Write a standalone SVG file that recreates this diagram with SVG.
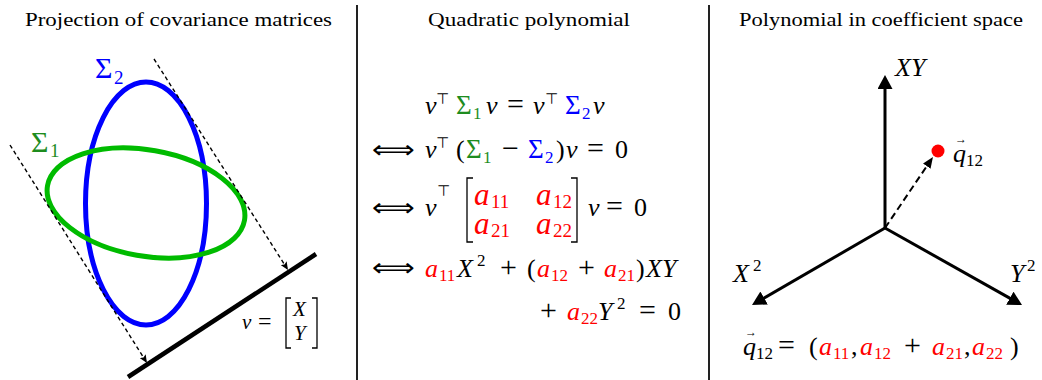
<svg xmlns="http://www.w3.org/2000/svg" width="1042" height="380" viewBox="0 0 1042 380">
<defs>
<style>
text{font-family:"Liberation Serif",serif;fill:#000}
.t{font-size:19px}
.m{font-size:26px}
.i{font-style:italic}
.n{font-style:normal}
.dj{font-family:"DejaVu Sans",sans-serif}
.sup{font-size:15px}
.s{font-size:17px}
.ms{font-size:19px}
.big{font-size:31px;font-style:italic}
.op{font-size:30px}
.sg{font-size:27px}
.iff{font-size:25px}
.vec{font-size:12px}
.lbl{font-size:30px}
.r{fill:#ff0000}
.g{fill:#1e8c1e}
.b{fill:#0000ff}
.div{stroke:#222;stroke-width:2}
.dash{stroke:#000;stroke-width:1.4;stroke-dasharray:4 3;fill:none}
.axis{stroke:#000;stroke-width:3;fill:none}
.brk{stroke:#000;stroke-width:1.3;fill:none}
</style>
<marker id="ah" viewBox="0 0 14 15" refX="8" refY="7.5" markerWidth="14" markerHeight="15" markerUnits="userSpaceOnUse" orient="auto">
<path d="M0,0 L14,7.5 L0,15 z" fill="#000"/>
</marker>
<marker id="ahs" viewBox="0 0 8 7" refX="6" refY="3.5" markerWidth="8" markerHeight="7" markerUnits="userSpaceOnUse" orient="auto">
<path d="M0,0 L8,3.5 L0,7 L1.5,3.5 z" fill="#000"/>
</marker>
<marker id="ahm" viewBox="0 0 11 9" refX="5" refY="4.5" markerWidth="11" markerHeight="9" markerUnits="userSpaceOnUse" orient="auto">
<path d="M0,0 L11,4.5 L0,9 z" fill="#000"/>
</marker>
</defs>
<rect width="1042" height="380" fill="#fff"/>

<g id="dividers">
<line class="div" x1="357" y1="5" x2="357" y2="380"/>
<line class="div" x1="709" y1="5" x2="709" y2="380"/>
</g>

<g id="titles">
<text class="t" x="25" y="26" textLength="307" lengthAdjust="spacingAndGlyphs">Projection of covariance matrices</text>
<text class="t" x="428" y="26" textLength="202" lengthAdjust="spacingAndGlyphs">Quadratic polynomial</text>
<text class="t" x="739" y="26" textLength="284" lengthAdjust="spacingAndGlyphs">Polynomial in coefficient space</text>
</g>

<g id="ellipse-sigma2">
<ellipse cx="146" cy="203.5" rx="60.5" ry="121.5" fill="none" stroke="#0000ff" stroke-width="5"/>
<text class="lbl b" x="95" y="78">Σ<tspan class="ms" x="114" y="84">2</tspan></text>
</g>
<g id="ellipse-sigma1">
<ellipse cx="146" cy="203" rx="100" ry="53" transform="rotate(10 146 203)" fill="none" stroke="#00bb00" stroke-width="5"/>
<text class="lbl g" x="31" y="152">Σ<tspan class="ms" x="50" y="157">1</tspan></text>
</g>
<g id="projection-line">
<line x1="128" y1="377" x2="316" y2="254" stroke="#000" stroke-width="4.5"/>
<text font-size="21" class="i" x="242" y="329">v</text>
<text font-size="24" x="258" y="329">=</text>
<path class="brk" d="M291,298 H286 V348 H291 M312,298 H317 V348 H312"/>
<text font-size="21" class="i" x="293" y="316">X</text>
<text font-size="21" class="i" x="294" y="340">Y</text>
</g>

<g id="connectors">
<line class="dash" x1="10" y1="145" x2="145.9" y2="361.3" marker-end="url(#ahs)"/>
<line class="dash" x1="154" y1="59" x2="286.9" y2="268.3" marker-end="url(#ahs)"/>
<line class="axis" x1="885" y1="228" x2="885" y2="81" marker-end="url(#ah)"/>
<line class="axis" x1="885" y1="228" x2="757.2" y2="302" marker-end="url(#ah)"/>
<line class="axis" x1="885" y1="228" x2="1016.8" y2="302.1" marker-end="url(#ah)"/>
<line x1="885" y1="228" x2="929.6" y2="162" stroke="#000" stroke-width="2" stroke-dasharray="7 4" marker-end="url(#ahm)"/>
</g>

<g id="equations">
<text class="m" y="114"><tspan x="425" class="i">v</tspan><tspan x="436" y="104" class="sup dj">⊤</tspan><tspan x="456" y="114" class="sg g">Σ</tspan><tspan x="473" y="119" class="s g">1</tspan><tspan x="486" y="114" class="i">v</tspan><tspan x="507" class="op">=</tspan><tspan x="533" class="i">v</tspan><tspan x="545" y="104" class="sup dj">⊤</tspan><tspan x="565" y="114" class="sg b">Σ</tspan><tspan x="582" y="119" class="s b">2</tspan><tspan x="593" y="114" class="i">v</tspan></text>

<text class="iff dj" x="372" y="158" textLength="43" lengthAdjust="spacingAndGlyphs">⟺</text>
<text class="m" y="158"><tspan x="425" class="i">v</tspan><tspan x="436" y="148" class="sup dj">⊤</tspan><tspan x="456" y="158">(</tspan><tspan x="466" class="sg g">Σ</tspan><tspan x="483" y="163" class="s g">1</tspan><tspan x="502" y="158" class="op">−</tspan><tspan x="528" class="sg b">Σ</tspan><tspan x="545" y="163" class="s b">2</tspan><tspan x="556" y="158">)</tspan><tspan x="566" class="i">v</tspan><tspan x="587" class="op">=</tspan><tspan x="615">0</tspan></text>

<text class="iff dj" x="372" y="216" textLength="43" lengthAdjust="spacingAndGlyphs">⟺</text>
<text class="m i" x="425" y="216">v</text>
<text class="sup dj" x="437" y="196">⊤</text>
<path class="brk" d="M473,178 H467 V242 H473 M571,178 H577 V242 H571"/>
<text class="big r" y="205"><tspan x="474">a</tspan><tspan x="491" y="208" class="ms n">11</tspan><tspan x="536" y="205">a</tspan><tspan x="553" y="208" class="ms n">12</tspan></text>
<text class="big r" y="234"><tspan x="474">a</tspan><tspan x="491" y="237" class="ms n">21</tspan><tspan x="536" y="234">a</tspan><tspan x="553" y="237" class="ms n">22</tspan></text>
<text class="m" y="216"><tspan x="588" class="i">v</tspan><tspan x="606" class="op">=</tspan><tspan x="634">0</tspan></text>

<text class="iff dj" x="372" y="276" textLength="43" lengthAdjust="spacingAndGlyphs">⟺</text>
<text class="m" y="277"><tspan x="425" class="i r">a</tspan><tspan x="439" y="281" class="s r">11</tspan><tspan x="457" y="277" class="i">X</tspan><tspan x="477" y="266" class="s">2</tspan><tspan x="500" y="277" class="op">+</tspan><tspan x="527">(</tspan><tspan x="537" class="i r">a</tspan><tspan x="551" y="281" class="s r">12</tspan><tspan x="578" y="277" class="op">+</tspan><tspan x="604" class="i r">a</tspan><tspan x="618" y="281" class="s r">21</tspan><tspan x="636" y="277">)</tspan><tspan x="646" class="i">XY</tspan></text>

<text class="m" y="320"><tspan x="540" class="op">+</tspan><tspan x="567" class="i r">a</tspan><tspan x="581" y="324" class="s r">22</tspan><tspan x="598" y="320" class="i">Y</tspan><tspan x="617" y="309" class="s">2</tspan><tspan x="639" y="320" class="op">=</tspan><tspan x="668">0</tspan></text>
</g>

<g id="axis-labels">
<text class="m i" x="895" y="76">XY</text>
<text class="m" y="282"><tspan x="733" class="i">X</tspan><tspan x="753" y="271" class="s">2</tspan></text>
<text class="m" y="282"><tspan x="1010" class="i">Y</tspan><tspan x="1027" y="271" class="s">2</tspan></text>
</g>
<g id="point-q12">
<circle cx="938" cy="151" r="6.5" fill="#ff0000"/>
<text class="vec" x="955" y="143">→</text>
<text class="m" y="162"><tspan x="953" class="i">q</tspan><tspan x="966" y="166" class="s">12</tspan></text>
</g>
<g id="q12-equation">
<text class="vec" x="745" y="336">→</text>
<text class="m" y="355"><tspan x="743" class="i">q</tspan><tspan x="756" y="359" class="s">12</tspan><tspan x="778" y="355" class="op">=</tspan><tspan x="809">(</tspan><tspan x="819" class="i r">a</tspan><tspan x="833" y="359" class="s r">11</tspan><tspan x="851" y="355">,</tspan><tspan x="860" class="i r">a</tspan><tspan x="874" y="359" class="s r">12</tspan><tspan x="904" y="355" class="op">+</tspan><tspan x="932" class="i r">a</tspan><tspan x="946" y="359" class="s r">21</tspan><tspan x="964" y="355">,</tspan><tspan x="972" class="i r">a</tspan><tspan x="986" y="359" class="s r">22</tspan><tspan x="1010" y="355">)</tspan></text>
</g>
</svg>
